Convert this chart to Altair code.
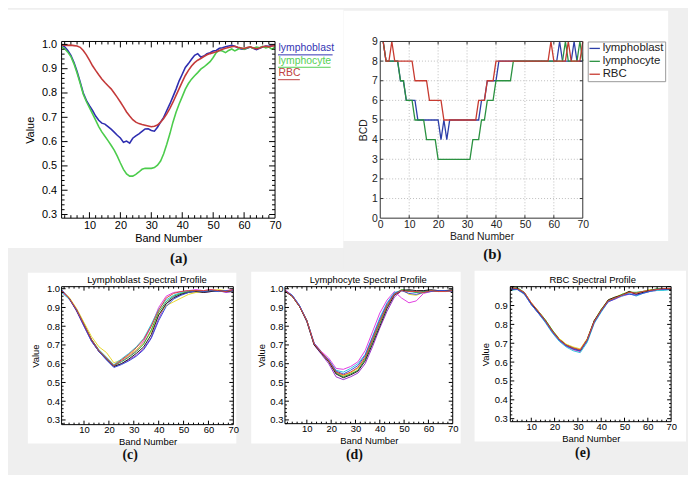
import altair as alt
import pandas as pd

FONT = "Liberation Sans"
SERIF = "Liberation Serif"
BG = "#efefef"

# ---------------- data ----------------
BANDS = list(range(1, 71))
SERIES = ["lymphoblast", "lymphocyte", "RBC"]

A_LYMPHOBLAST = [
    0.997, 0.990, 0.975, 0.955, 0.925, 0.888, 0.845, 0.800, 0.770, 0.748,
    0.728, 0.705, 0.688, 0.676, 0.672, 0.662, 0.651, 0.639, 0.626, 0.615,
    0.597, 0.602, 0.594, 0.614, 0.624, 0.632, 0.642, 0.652, 0.653, 0.646,
    0.643, 0.659, 0.680, 0.700, 0.728, 0.755, 0.785, 0.816, 0.850, 0.877,
    0.905, 0.921, 0.939, 0.955, 0.962, 0.948, 0.952, 0.962, 0.966, 0.973,
    0.975, 0.984, 0.986, 0.990, 0.993, 0.996, 0.992, 0.986, 0.981, 0.980,
    0.984, 0.989, 0.984, 0.978, 0.984, 0.989, 0.993, 0.992, 0.995, 0.996]
A_LYMPHOCYTE = [
    0.990, 0.982, 0.968, 0.950, 0.920, 0.882, 0.840, 0.795, 0.765, 0.740,
    0.714, 0.688, 0.662, 0.640, 0.622, 0.604, 0.585, 0.565, 0.540, 0.512,
    0.486, 0.467, 0.458, 0.458, 0.465, 0.475, 0.486, 0.490, 0.490, 0.490,
    0.493, 0.503, 0.520, 0.550, 0.589, 0.632, 0.680, 0.721, 0.755, 0.785,
    0.816, 0.839, 0.857, 0.871, 0.884, 0.898, 0.907, 0.918, 0.929, 0.946,
    0.966, 0.975, 0.973, 0.966, 0.975, 0.981, 0.973, 0.980, 0.986, 0.980,
    0.986, 0.989, 0.984, 0.989, 0.986, 0.992, 0.986, 0.989, 0.980, 0.989]
A_RBC = [
    0.998, 0.997, 0.996, 0.997, 0.995, 0.993, 0.988, 0.975, 0.957, 0.935,
    0.912, 0.893, 0.875, 0.858, 0.843, 0.830, 0.817, 0.800, 0.782, 0.763,
    0.743, 0.722, 0.705, 0.690, 0.680, 0.674, 0.670, 0.667, 0.664, 0.661,
    0.663, 0.668, 0.680, 0.695, 0.714, 0.737, 0.762, 0.790, 0.818, 0.846,
    0.872, 0.893, 0.911, 0.925, 0.935, 0.942, 0.950, 0.957, 0.962, 0.966,
    0.970, 0.975, 0.980, 0.984, 0.987, 0.990, 0.992, 0.988, 0.985, 0.983,
    0.987, 0.990, 0.985, 0.982, 0.985, 0.990, 0.992, 0.990, 0.993, 0.995]
A_COLORS = ["#2e2eb0", "#4ccc4c", "#c43a3a"]
A_LABEL_COLORS = ["#3434b4", "#55d055", "#c04040"]

B_LYMPHOBLAST = [9, 8, 8, 8, 8, 8, 7, 7, 6, 6, 6, 6, 5, 5, 5, 5, 5, 5, 5, 5,
                 4, 5, 4, 5, 5, 5, 5, 5, 5, 5, 5, 5, 5, 5, 6, 6, 7, 7, 7, 7,
                 8, 8, 8, 8, 8, 8, 8, 8, 8, 8, 8, 8, 8, 8, 8, 8, 8, 8, 8, 8,
                 8, 9, 8, 8, 8, 8, 9, 8, 8, 8]
B_LYMPHOCYTE = [9, 8, 8, 8, 8, 8, 7, 7, 6, 6, 6, 5, 5, 5, 5, 4, 4, 4, 4, 3,
                3, 3, 3, 3, 3, 3, 3, 3, 3, 3, 3, 4, 4, 4, 5, 5, 6, 6, 6, 7,
                7, 7, 7, 7, 7, 8, 8, 8, 8, 8, 8, 8, 8, 8, 8, 8, 8, 8, 8, 8,
                8, 8, 8, 9, 8, 8, 8, 8, 9, 8]
B_RBC = [9, 8, 8, 9, 8, 8, 8, 8, 8, 8, 8, 7, 7, 7, 7, 7, 6, 6, 6, 6,
         6, 5, 5, 5, 5, 5, 5, 5, 5, 5, 5, 5, 5, 6, 6, 6, 7, 7, 7, 8,
         8, 8, 8, 8, 8, 8, 8, 8, 8, 8, 8, 8, 8, 8, 8, 8, 8, 8, 9, 8,
         8, 8, 8, 8, 9, 8, 8, 8, 8, 9]
B_COLORS = ["#2c3ea8", "#2a9140", "#c73a30"]

SAMPLE_BANDS = [1, 4, 7, 10, 13, 16, 19, 22, 25, 28, 31, 34, 37, 40, 43, 46,
                49, 52, 55, 58, 61, 64, 67, 70]
SAMPLE_COLORS = ["#9a2fc9", "#e23ee0", "#e8d82a", "#31c6dc", "#2fa83a",
                 "#202020", "#3a4fd8", "#d8453a"]

C_SAMPLES = [
    [0.99, 0.95, 0.88, 0.80, 0.72, 0.665, 0.625, 0.585, 0.60, 0.62, 0.645, 0.68, 0.74, 0.84, 0.92, 0.955, 0.97, 0.985, 0.99, 0.98, 0.985, 0.99, 0.98, 0.985],
    [0.985, 0.945, 0.885, 0.805, 0.725, 0.67, 0.63, 0.59, 0.615, 0.64, 0.67, 0.72, 0.80, 0.90, 0.96, 0.98, 0.985, 0.99, 0.995, 0.99, 0.995, 0.99, 0.99, 0.995],
    [0.99, 0.955, 0.895, 0.82, 0.745, 0.69, 0.66, 0.605, 0.62, 0.645, 0.675, 0.71, 0.77, 0.86, 0.91, 0.93, 0.95, 0.97, 0.98, 0.985, 0.99, 0.995, 0.99, 0.99],
    [0.98, 0.945, 0.89, 0.81, 0.73, 0.675, 0.635, 0.595, 0.625, 0.655, 0.69, 0.735, 0.81, 0.89, 0.94, 0.965, 0.98, 0.99, 0.99, 0.985, 0.99, 0.985, 0.99, 0.99],
    [0.99, 0.95, 0.885, 0.81, 0.73, 0.67, 0.63, 0.59, 0.61, 0.635, 0.665, 0.705, 0.78, 0.875, 0.93, 0.96, 0.975, 0.985, 0.99, 0.985, 0.99, 0.99, 0.985, 0.99],
    [0.99, 0.95, 0.885, 0.805, 0.725, 0.665, 0.625, 0.585, 0.60, 0.625, 0.655, 0.69, 0.755, 0.86, 0.92, 0.95, 0.97, 0.98, 0.985, 0.98, 0.985, 0.99, 0.985, 0.99],
    [0.995, 0.95, 0.885, 0.80, 0.72, 0.665, 0.62, 0.58, 0.595, 0.615, 0.64, 0.675, 0.735, 0.83, 0.905, 0.945, 0.965, 0.98, 0.99, 0.985, 0.99, 0.985, 0.99, 0.99],
    [0.99, 0.95, 0.89, 0.81, 0.73, 0.67, 0.63, 0.59, 0.62, 0.65, 0.685, 0.73, 0.80, 0.885, 0.95, 0.975, 0.985, 0.99, 0.99, 0.99, 0.995, 0.99, 0.985, 0.995],
]
D_SAMPLES = [
    [0.99, 0.96, 0.905, 0.825, 0.70, 0.65, 0.60, 0.53, 0.515, 0.53, 0.55, 0.60, 0.69, 0.79, 0.88, 0.955, 0.99, 0.99, 0.985, 0.99, 0.99, 0.985, 0.99, 0.99],
    [0.995, 0.965, 0.91, 0.83, 0.71, 0.665, 0.63, 0.575, 0.57, 0.585, 0.61, 0.67, 0.77, 0.87, 0.94, 0.985, 0.95, 0.925, 0.935, 0.975, 0.985, 0.99, 0.985, 0.99],
    [0.99, 0.96, 0.905, 0.83, 0.705, 0.66, 0.615, 0.555, 0.535, 0.55, 0.575, 0.63, 0.72, 0.82, 0.91, 0.975, 0.995, 0.97, 0.965, 0.98, 0.99, 0.99, 0.99, 0.99],
    [0.99, 0.965, 0.91, 0.83, 0.705, 0.66, 0.62, 0.565, 0.555, 0.575, 0.60, 0.65, 0.745, 0.845, 0.925, 0.98, 0.99, 0.985, 0.98, 0.985, 0.99, 0.99, 0.985, 0.99],
    [0.99, 0.96, 0.905, 0.83, 0.705, 0.66, 0.615, 0.55, 0.53, 0.545, 0.565, 0.625, 0.72, 0.815, 0.905, 0.97, 0.995, 0.99, 0.98, 0.985, 0.99, 0.985, 0.99, 0.99],
    [0.985, 0.96, 0.905, 0.825, 0.70, 0.655, 0.61, 0.545, 0.525, 0.54, 0.56, 0.615, 0.705, 0.80, 0.895, 0.965, 0.99, 0.995, 0.99, 0.99, 0.995, 0.99, 0.99, 0.995],
    [0.99, 0.965, 0.91, 0.83, 0.71, 0.66, 0.62, 0.56, 0.545, 0.565, 0.59, 0.645, 0.74, 0.835, 0.92, 0.975, 0.99, 0.975, 0.97, 0.98, 0.985, 0.99, 0.99, 0.985],
    [0.99, 0.96, 0.905, 0.83, 0.705, 0.66, 0.615, 0.555, 0.54, 0.555, 0.58, 0.635, 0.73, 0.825, 0.91, 0.97, 0.99, 0.985, 0.985, 0.98, 0.99, 0.985, 0.985, 0.99],
]
E_SAMPLES = [
    [0.99, 0.99, 0.965, 0.91, 0.865, 0.82, 0.765, 0.72, 0.69, 0.675, 0.665, 0.72, 0.815, 0.875, 0.925, 0.94, 0.955, 0.97, 0.96, 0.97, 0.98, 0.985, 0.985, 0.99],
    [0.985, 0.985, 0.96, 0.905, 0.86, 0.815, 0.76, 0.715, 0.685, 0.665, 0.655, 0.71, 0.81, 0.87, 0.92, 0.935, 0.95, 0.96, 0.955, 0.97, 0.975, 0.98, 0.985, 0.985],
    [0.99, 0.99, 0.97, 0.915, 0.87, 0.825, 0.77, 0.725, 0.695, 0.68, 0.67, 0.725, 0.82, 0.88, 0.93, 0.945, 0.96, 0.975, 0.965, 0.975, 0.985, 0.985, 0.99, 0.99],
    [0.98, 0.985, 0.96, 0.905, 0.86, 0.81, 0.755, 0.71, 0.68, 0.66, 0.65, 0.705, 0.805, 0.865, 0.92, 0.94, 0.95, 0.965, 0.95, 0.965, 0.975, 0.98, 0.98, 0.985],
    [0.99, 0.995, 0.97, 0.91, 0.87, 0.825, 0.77, 0.72, 0.69, 0.675, 0.66, 0.715, 0.815, 0.88, 0.925, 0.94, 0.96, 0.97, 0.97, 0.975, 0.98, 0.99, 0.985, 0.99],
    [0.985, 0.99, 0.965, 0.91, 0.865, 0.82, 0.765, 0.72, 0.69, 0.67, 0.66, 0.72, 0.82, 0.875, 0.93, 0.945, 0.955, 0.975, 0.96, 0.97, 0.98, 0.985, 0.99, 0.985],
    [0.99, 0.985, 0.965, 0.905, 0.86, 0.815, 0.76, 0.715, 0.685, 0.67, 0.66, 0.715, 0.81, 0.87, 0.92, 0.935, 0.955, 0.96, 0.955, 0.965, 0.975, 0.985, 0.985, 0.99],
    [0.995, 0.99, 0.97, 0.915, 0.87, 0.82, 0.765, 0.72, 0.69, 0.675, 0.665, 0.72, 0.815, 0.875, 0.925, 0.94, 0.955, 0.97, 0.965, 0.975, 0.98, 0.985, 0.99, 0.99],
]

X_LABELS_IDL = [10, 20, 30, 40, 50, 60, 70]
X_LABELS_B = [0, 10, 20, 30, 40, 50, 60, 70]
Y_LABELS = [0.3, 0.4, 0.5, 0.6, 0.7, 0.8, 0.9, 1.0]
Y_LABELS_E = [0.3, 0.4, 0.5, 0.6, 0.7, 0.8, 0.9]
Y_LABELS_B = [0, 1, 2, 3, 4, 5, 6, 7, 8, 9]
X_MAJOR_TICKS = [10, 20, 30, 40, 50, 60]
X_MINOR_TICKS = [v for v in range(2, 70, 2) if v % 10]
B_GRID_X = [10, 20, 30, 40, 50, 60]
B_GRID_Y = [1, 2, 3, 4, 5, 6, 7, 8]
A_UNDERLINE_WIDTHS = [55, 53, 22]


# ---------------- helpers ----------------
def one():
    return pd.DataFrame({"k": [0]})


def box(x1, x2, y1, y2, **kw):
    return alt.Chart(one()).mark_rect(**kw).encode(
        x=alt.value(x1), x2=alt.value(x2), y=alt.value(y1), y2=alt.value(y2))


def hline(x1, x2, y, **kw):
    return alt.Chart(one()).mark_rule(**kw).encode(
        x=alt.value(x1), x2=alt.value(x2), y=alt.value(y))


def label(txt, x, y, **kw):
    return alt.Chart(one()).mark_text(text=txt, **kw).encode(
        x=alt.value(x), y=alt.value(y))


def xrules(vals, xs, xax, y1, y2, **kw):
    return alt.Chart(pd.DataFrame({"t": vals})).mark_rule(**kw).encode(
        x=alt.X("t:Q", scale=xs, axis=xax), y=alt.value(y1), y2=alt.value(y2))


def yrules(vals, ys, yax, x1, x2, **kw):
    return alt.Chart(pd.DataFrame({"t": vals})).mark_rule(**kw).encode(
        y=alt.Y("t:Q", scale=ys, axis=yax), x=alt.value(x1), x2=alt.value(x2))


def axis(values, title, fs, lpad, tpad, fmt=None, color="black"):
    kw = dict(values=values, title=title, domain=False, ticks=False, grid=False,
              labelFont=FONT, labelFontSize=fs, labelPadding=lpad, labelColor=color,
              titleFont=FONT, titleFontSize=fs, titleFontWeight="normal",
              titlePadding=tpad, titleColor=color, labelFlush=False,
              labelOverlap=False, zindex=1)
    if fmt:
        kw["format"] = fmt
    return alt.Axis(**kw)


def y_minor(ydom):
    out = []
    for i in range(-1, 36):
        v = round(0.3 + 0.02 * i, 2)
        if i % 5 != 0 and ydom[0] <= v <= ydom[1]:
            out.append(v)
    return out


def idl_panel(df, color, w, h, ydom, yvals, slot, white, tag, tag_xy, fs,
              lpad_x, tpad_x, lpad_y, tpad_y, maj, mnr, sw,
              title=None, title_xy=None, tag_size=14, extra=()):
    xs = alt.Scale(domain=[1, 70], nice=False, zero=False)
    ys = alt.Scale(domain=ydom, nice=False, zero=False)
    xax = axis(X_LABELS_IDL, "Band Number", fs, lpad_x, tpad_x)
    yax = axis(yvals, "Value", fs, lpad_y, tpad_y, fmt=".1f")
    lines = alt.Chart(df).mark_line(strokeWidth=sw, clip=True).encode(
        x=alt.X("band:Q", scale=xs, axis=xax),
        y=alt.Y("value:Q", scale=ys, axis=yax),
        color=color,
    )
    ymaj = [v for v in Y_LABELS if ydom[0] <= v <= ydom[1]]
    ymin = y_minor(ydom)
    layers = [
        box(*slot, fill=BG, strokeWidth=0),
        box(*white, fill="white", strokeWidth=0),
        lines,
        xrules(X_MAJOR_TICKS, xs, xax, h, h - maj, color="black"),
        xrules(X_MINOR_TICKS, xs, xax, h, h - mnr, color="black"),
        xrules(X_MAJOR_TICKS, xs, xax, 0, maj, color="black"),
        xrules(X_MINOR_TICKS, xs, xax, 0, mnr, color="black"),
        yrules(ymaj, ys, yax, 0, maj, color="black"),
        yrules(ymin, ys, yax, 0, mnr, color="black"),
        yrules(ymaj, ys, yax, w, w - maj, color="black"),
        yrules(ymin, ys, yax, w, w - mnr, color="black"),
        box(0, w, 0, h, fillOpacity=0, stroke="black", strokeWidth=1),
        label(tag, tag_xy[0], tag_xy[1], font=SERIF, fontWeight="bold",
              fontSize=tag_size, color="#111"),
    ]
    if title:
        layers.append(label(title, title_xy[0], title_xy[1], font=FONT,
                            fontSize=fs, color="black"))
    layers.extend(extra)
    return alt.layer(*layers).properties(width=w, height=h)


# ---------------- panel (a) ----------------
a_df = pd.DataFrame({
    "band": BANDS * 3,
    "value": A_LYMPHOBLAST + A_LYMPHOCYTE + A_RBC,
    "series": [s for s in SERIES for _ in BANDS],
})
label_expr = " : ".join(
    f"datum.value === '{s}' ? '{c}'" for s, c in zip(SERIES[:-1], A_LABEL_COLORS[:-1])
) + f" : '{A_LABEL_COLORS[-1]}'"
a_color = alt.Color(
    "series:N", scale=alt.Scale(domain=SERIES, range=A_COLORS),
    legend=alt.Legend(title=None, orient="none", legendX=208, legendY=1,
                      symbolSize=0, symbolStrokeWidth=0, symbolOpacity=0,
                      labelOffset=0, padding=0, rowPadding=2,
                      labelFont=FONT, labelFontSize=10.5,
                      labelColor={"expr": label_expr}))
a_underlines = [
    hline(218, 218 + wd, 13.5 + 12.5 * i, color=c, strokeWidth=1)
    for i, (wd, c) in enumerate(zip(A_UNDERLINE_WIDTHS, A_LABEL_COLORS))
]
panel_a = idl_panel(a_df, a_color, 215, 178, [0.285, 1.012], Y_LABELS,
                    (-54, 284, -32, 228), (-54, 284, -32, 208),
                    "(a)", (118, 218), 11, 1, 2, 5, 6, 6, 3, 1.6, tag_size=15,
                    extra=a_underlines)

# ---------------- panel (b) ----------------
bw, bh = 204, 178
b_df = pd.DataFrame({
    "band": BANDS * 3,
    "value": B_LYMPHOBLAST + B_LYMPHOCYTE + B_RBC,
    "series": [s for s in SERIES for _ in BANDS],
})
bxs = alt.Scale(domain=[0, 70], nice=False, zero=False)
bys = alt.Scale(domain=[0, 9], nice=False, zero=False)
bxax = axis(X_LABELS_B, "Band Number", 10.5, 1, 2, color="#222")
byax = axis(Y_LABELS_B, "BCD", 10.5, 3, 3, color="#222")
b_lines = alt.Chart(b_df).mark_line(strokeWidth=1.3).encode(
    x=alt.X("band:Q", scale=bxs, axis=bxax),
    y=alt.Y("value:Q", scale=bys, axis=byax),
    color=alt.Color("series:N", scale=alt.Scale(domain=SERIES, range=B_COLORS),
                    legend=alt.Legend(title=None, orient="none", legendX=209,
                                      legendY=0, symbolType="stroke",
                                      symbolSize=110, symbolStrokeWidth=1.3,
                                      labelOffset=2, padding=1, rowPadding=1,
                                      labelFont=FONT, labelFontSize=11.5,
                                      labelColor="#222", strokeColor="#999",
                                      fillColor="white")),
)
panel_b = alt.layer(
    box(-37, 305, -31, 229, fill=BG, strokeWidth=0),
    box(-37, 290, -31, 201, fill="white", strokeWidth=0),
    xrules(B_GRID_X, bxs, bxax, 0, bh, color="#bdbdbd", strokeDash=[1, 2]),
    yrules(B_GRID_Y, bys, byax, 0, bw, color="#bdbdbd", strokeDash=[1, 2]),
    b_lines,
    xrules(B_GRID_X, bxs, bxax, bh, bh - 3, color="#333"),
    xrules(B_GRID_X, bxs, bxax, 0, 3, color="#333"),
    yrules(B_GRID_Y, bys, byax, 0, 3, color="#333"),
    yrules(B_GRID_Y, bys, byax, bw, bw - 3, color="#333"),
    box(0, bw, 0, bh, fillOpacity=0, stroke="#333", strokeWidth=1),
    label("(b)", 113, 214, font=SERIF, fontWeight="bold", fontSize=15, color="#111"),
).properties(width=bw, height=bh)


# ---------------- panels (c), (d), (e) ----------------
def sample_df(samples):
    rows = []
    for i, vals in enumerate(samples):
        for b, v in zip(SAMPLE_BANDS, vals):
            rows.append({"band": b, "value": v, "sample": f"s{i + 1}"})
    return pd.DataFrame(rows)


def sample_color(n):
    return alt.Color("sample:N",
                     scale=alt.Scale(domain=[f"s{i + 1}" for i in range(n)],
                                     range=SAMPLE_COLORS[:n]),
                     legend=None)


panel_c = idl_panel(sample_df(C_SAMPLES), sample_color(len(C_SAMPLES)),
                    173, 139, [0.275, 1.011], Y_LABELS,
                    (-49, 183, -16, 188), (-34, 176, -14, 158),
                    "(c)", (69, 170), 9.5, 0, 2, 2, 6, 4, 2, 1,
                    title="Lymphoblast Spectral Profile", title_xy=(86, -7))
panel_d = idl_panel(sample_df(D_SAMPLES), sample_color(len(D_SAMPLES)),
                    169, 138, [0.28, 1.011], Y_LABELS,
                    (-42, 184, -16, 188), (-34, 177, -15, 158),
                    "(d)", (70, 170), 9.5, 0, 2, 2, 3, 4, 2, 1,
                    title="Lymphocyte Spectral Profile", title_xy=(84, -7))
panel_e = idl_panel(sample_df(E_SAMPLES), sample_color(len(E_SAMPLES)),
                    162, 136, [0.284, 1.0], Y_LABELS_E,
                    (-43, 179, -18, 186), (-36, 177, -16, 156),
                    "(e)", (73, 168), 9.5, 0, 2, 3, 4, 4, 2, 1,
                    title="RBC Spectral Profile", title_xy=(83, -7))

top = alt.hconcat(panel_a, panel_b, spacing=0).resolve_scale(color="independent")
bottom = alt.hconcat(panel_c, panel_d, panel_e, spacing=0).resolve_scale(color="independent")

chart = (
    alt.vconcat(top, bottom, spacing=0)
    .resolve_scale(color="independent")
    .properties(padding=0, background=BG)
    .configure_view(strokeWidth=0)
)

chart.save("out.html", embed_options={"renderer": "svg", "actions": False})
